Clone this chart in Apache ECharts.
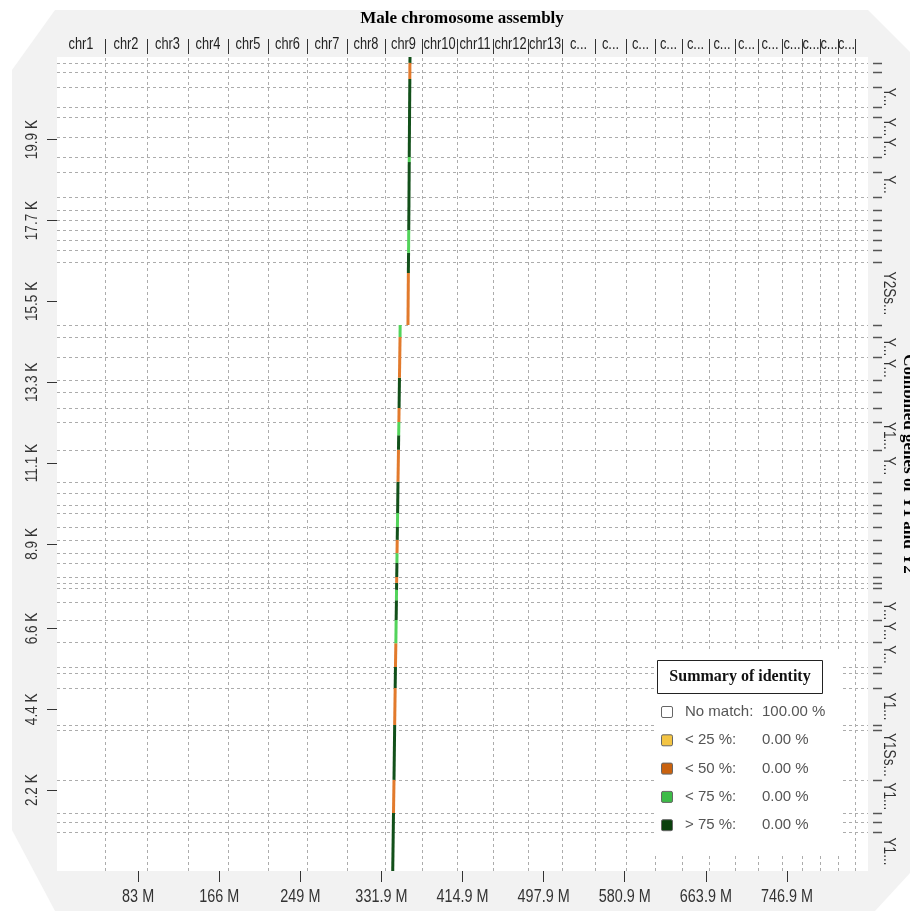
<!DOCTYPE html>
<html>
<head>
<meta charset="utf-8">
<script src="https://cdn.jsdelivr.net/npm/echarts@6/dist/echarts.min.js"></script>
<style>
html,body{margin:0;padding:0;background:#fff;}
#c{width:910px;height:911px;}
</style>
</head>
<body>
<div id="c"></div>
<script>
// ---------------- DATA ----------------
const chrNames = ['chr1','chr2','chr3','chr4','chr5','chr6','chr7','chr8','chr9','chr10','chr11','chr12','chr13',
  'chr14','chr15','chr16','chr17','chr18','chr19','chr20','chr21','chr22','chr23','chr24','chr25','chr26'];
const chrLengthsMb = [49.11,42.97,41.95,40.93,40.93,39.90,40.93,38.88,37.86,35.81,36.83,35.81,34.79,
  33.76,31.72,29.67,27.63,27.63,26.60,23.53,24.56,20.46,18.42,18.42,17.39,13.30];

// Y contigs (combined genes of Y1 and Y2), from bottom to top
const contigLabels = ['Y1...','','','Y1...','Y1Ss...','','Y1...','','','Y...','Y...','Y...',
  '','','','','','','','','','','','Y...','Y1...','','','','Y...','Y...','','Y2Ss...',
  '','','','','','','Y...','','Y...','Y...','','Y...','','',''];
const contigLengthsK = [1.06,0.27,0.25,0.90,1.36,0.13,1.01,0.41,0.16,0.68,0.60,0.49,
  0.38,0.14,0.16,0.38,0.27,0.36,0.35,0.38,0.22,0.33,0.30,0.87,0.76,0.38,0.43,0.33,0.63,0.54,0.33,1.71,
  0.33,0.27,0.27,0.27,0.28,0.35,0.68,0.41,0.54,0.55,0.27,0.54,0.41,0.25,0.16];

const xTicksMb = [83,166,249,331.9,414.9,497.9,580.9,663.9,746.9];
const yTicksK = [2.2,4.4,6.6,8.9,11.1,13.3,15.5,17.7,19.9];

// alignment blocks: male assembly position (Mb) vs gene position (K), identity class
const alignStartMb = [343.5,344.3,344.8,345.5,346.0,346.3,346.7,347.0,347.3,347.4,347.5,347.6,347.8,347.9,348.1,348.3,
  348.5,348.9,349.4,349.6,349.8,350.0,350.4,351.0,
  359.1,359.5,359.7,359.9,360.4,360.4,361.0,361.1];
const alignEndMb = [344.3,344.8,345.5,346.0,346.3,346.7,347.0,347.3,347.4,347.5,347.6,347.8,347.9,348.1,348.3,348.5,
  348.9,349.4,349.6,349.8,350.0,350.4,351.0,351.1,
  359.5,359.7,359.9,360.4,360.4,361.0,361.1,361.2];
const alignStartK = [0,1.58,2.48,3.97,4.98,5.55,6.20,6.83,7.37,7.65,7.84,8.00,8.38,8.65,9.01,9.36,
  9.74,10.59,11.46,11.86,12.22,12.60,13.42,14.53,
  14.86,16.27,16.82,17.44,19.29,19.43,21.55,21.99];
const alignEndK = [1.58,2.48,3.97,4.98,5.55,6.20,6.83,7.37,7.65,7.84,8.00,8.38,8.65,9.01,9.36,9.74,
  10.59,11.46,11.86,12.22,12.60,13.42,14.53,14.86,
  16.27,16.82,17.44,19.29,19.43,21.55,21.99,22.15];
const alignIdentity = [4,2,4,2,4,2,3,4,3,4,2,4,3,2,4,3,4,2,4,3,2,4,2,3,
  2,4,3,4,3,4,2,4];

const legendLabels = ['No match:','< 25 %:','< 50 %:','< 75 %:','> 75 %:'];
const legendValues = ['100.00 %','0.00 %','0.00 %','0.00 %','0.00 %'];

// ---------------- STYLE ----------------
const identityColors = ['#ffffff','#f3c443','#c9620f','#3dbb48','#0b400d'];
const lineColors = ['#ffffff','#f3c443','#e27a2c','#52d35a','#12501a'];
const SANS = '"Liberation Sans",Arial,sans-serif';
const SERIF = '"Liberation Serif","Times New Roman",serif';
const NARROW_SCALE = 0.8;   // condensed look of the original labels
const GRID = {left:57, top:57, width:811, height:814};

function cumulative(a){const o=[0];a.forEach(v=>o.push(+(o[o.length-1]+v).toFixed(4)));return o;}
const chrBounds = cumulative(chrLengthsMb);
const xMax = chrBounds[chrBounds.length-1];
const contigBounds = cumulative(contigLengthsK);
const yMax = contigBounds[contigBounds.length-1];

const dash = {stroke:'#acacac', lineWidth:1, lineDash:[3,3]};

const chart = echarts.init(document.getElementById('c'));

const legendX = 655, legendY = 650;
const legendEls = [
  {type:'rect', shape:{x:legendX, y:legendY, width:185, height:203}, style:{fill:'#fff'}, z:100},
  {type:'rect', shape:{x:657.5, y:660.5, width:165, height:33}, style:{fill:'#fff', stroke:'#222', lineWidth:1}, z:101},
  {type:'text', x:740, y:677, style:{text:'Summary of identity', align:'center', verticalAlign:'middle',
     font:'bold 16px '+SERIF, fill:'#111'}, z:102}
];
legendLabels.forEach((lab,i)=>{
  const ry = 712 + i*28.3;
  legendEls.push({type:'rect', shape:{x:661.5, y:ry-5.5, width:11, height:11, r:1.5},
    style:{fill:identityColors[i], stroke:'#666', lineWidth:1}, z:102});
  legendEls.push({type:'text', x:685, y:ry, style:{text:lab, align:'left', verticalAlign:'middle',
    font:'15px '+SANS, fill:'#555'}, z:102});
  legendEls.push({type:'text', x:762, y:ry, style:{text:legendValues[i], align:'left', verticalAlign:'middle',
    font:'15px '+SANS, fill:'#555'}, z:102});
});

const option = {
  backgroundColor:'#fff',
  animation:false,
  grid:{left:GRID.left, top:GRID.top, width:GRID.width, height:GRID.height, show:true,
    backgroundColor:'#fff', borderWidth:0},
  graphic:[
    {type:'polygon', shape:{points:[[55,10],[868,10],[910,52],[910,873],[875,911],[55,911],[12,830],[12,70]]},
      style:{fill:'#f2f2f2'}, z:-100, silent:true},
    {type:'text', x:462, y:19, style:{text:'Male chromosome assembly', align:'center', verticalAlign:'middle',
      font:'bold 17px '+SERIF, fill:'#000'}},
    {type:'text', x:908, y:464, rotation:-Math.PI/2, style:{text:'Combined genes of Y1 and Y2', align:'center',
      verticalAlign:'middle', font:'bold 17px '+SERIF, fill:'#000'}}
  ].concat(legendEls),
  xAxis:{type:'value', min:0, max:xMax,
    axisLine:{show:false}, splitLine:{show:false},
    axisTick:{show:true, length:11, customValues:xTicksMb, lineStyle:{color:'#333', width:1}},
    axisLabel:{show:false}
  },
  yAxis:{type:'value', min:0, max:yMax,
    axisLine:{show:false}, splitLine:{show:false},
    axisTick:{show:true, length:10, customValues:yTicksK, lineStyle:{color:'#333', width:1}},
    axisLabel:{show:false}
  },
  series:[
    { // vertical chromosome boundaries
      type:'custom', silent:true, clip:false, z:1,
      data: chrBounds.slice(1,-1).map(v=>[v,0]),
      renderItem:(p,api)=>{
        const a=api.coord([api.value(0),0]), b=api.coord([api.value(0),yMax]);
        return {type:'line', shape:{x1:Math.round(a[0])+0.5,y1:a[1],x2:Math.round(b[0])+0.5,y2:b[1]}, style:dash};
      }
    },
    { // horizontal contig boundaries
      type:'custom', silent:true, clip:false, z:1,
      data: contigBounds.slice(1,-1).map(v=>[0,v]),
      renderItem:(p,api)=>{
        const a=api.coord([0,api.value(1)]), b=api.coord([xMax,api.value(1)]);
        return {type:'line', shape:{x1:a[0],y1:Math.round(a[1])+0.5,x2:b[0],y2:Math.round(b[1])+0.5}, style:dash};
      }
    },
    { // x tick labels
      type:'custom', silent:true, clip:false, z:3,
      data: xTicksMb.map(v=>[v,0]),
      renderItem:(p,api)=>{
        const a=api.coord([api.value(0),0]);
        return {type:'text', x:a[0], y:a[1]+26, scaleX:NARROW_SCALE, style:{text:api.value(0)+' M', align:'center',
          verticalAlign:'middle', font:'18px '+SANS, fill:'#333'}};
      }
    },
    { // y tick labels
      type:'custom', silent:true, clip:false, z:3,
      data: yTicksK.map(v=>[0,v]),
      renderItem:(p,api)=>{
        const a=api.coord([0,api.value(1)]);
        return {type:'text', x:a[0]-25, y:a[1], rotation:Math.PI/2, scaleX:NARROW_SCALE, style:{text:api.value(1)+' K',
          align:'center', verticalAlign:'middle', font:'17px '+SANS, fill:'#333'}};
      }
    },
    { // chromosome labels on top
      type:'custom', silent:true, clip:false, z:3,
      data: chrNames.map((n,i)=>[chrBounds[i], chrBounds[i+1], i]),
      renderItem:(p,api)=>{
        const s=api.coord([api.value(0),yMax]), e=api.coord([api.value(1),yMax]);
        const w=e[0]-s[0], name=chrNames[api.value(2)];
        const label = w>=33 ? name : (w>=15 ? name[0]+'...' : '');
        const ch=[];
        if(label){
          ch.push({type:'text', x:(s[0]+e[0])/2, y:s[1]-12, scaleX:NARROW_SCALE, style:{text:label, align:'center',
            verticalAlign:'middle', font:'16px '+SANS, fill:'#222'}});
          ch.push({type:'line', shape:{x1:Math.round(e[0])+0.5, y1:s[1]-3, x2:Math.round(e[0])+0.5, y2:s[1]-18},
            style:{stroke:'#333', lineWidth:1}});
        }
        return {type:'group', children:ch};
      }
    },
    { // contig labels on right
      type:'custom', silent:true, clip:false, z:3,
      data: contigLabels.map((n,i)=>[xMax, contigBounds[i], contigBounds[i+1], i]),
      renderItem:(p,api)=>{
        const s=api.coord([xMax,api.value(1)]), e=api.coord([xMax,api.value(2)]);
        const i=api.value(3), label=contigLabels[i];
        const ch=[];
        if(label){
          ch.push({type:'text', x:s[0]+20, y:(s[1]+e[1])/2, rotation:-Math.PI/2, scaleX:0.85, style:{text:label, align:'center',
            verticalAlign:'middle', font:'16px '+SANS, fill:'#333'}});
        }
        if(i<contigLabels.length-1){
          ch.push({type:'line', shape:{x1:s[0]+5, y1:Math.round(e[1])+0.5, x2:s[0]+14, y2:Math.round(e[1])+0.5},
            style:{stroke:'#555', lineWidth:1.5}});
        }
        return {type:'group', children:ch};
      }
    },
    { // alignment blocks
      type:'custom', silent:true, clip:false, z:5,
      data: alignStartMb.map((v,i)=>[v, alignStartK[i], alignEndMb[i], alignEndK[i], alignIdentity[i]]),
      renderItem:(p,api)=>{
        const a=api.coord([api.value(0),api.value(1)]), b=api.coord([api.value(2),api.value(3)]);
        return {type:'line', shape:{x1:a[0],y1:a[1],x2:b[0],y2:b[1]},
          style:{stroke:lineColors[api.value(4)], lineWidth:3, lineCap:'butt'}};
      }
    }
  ]
};
chart.setOption(option);
</script>
</body>
</html>
